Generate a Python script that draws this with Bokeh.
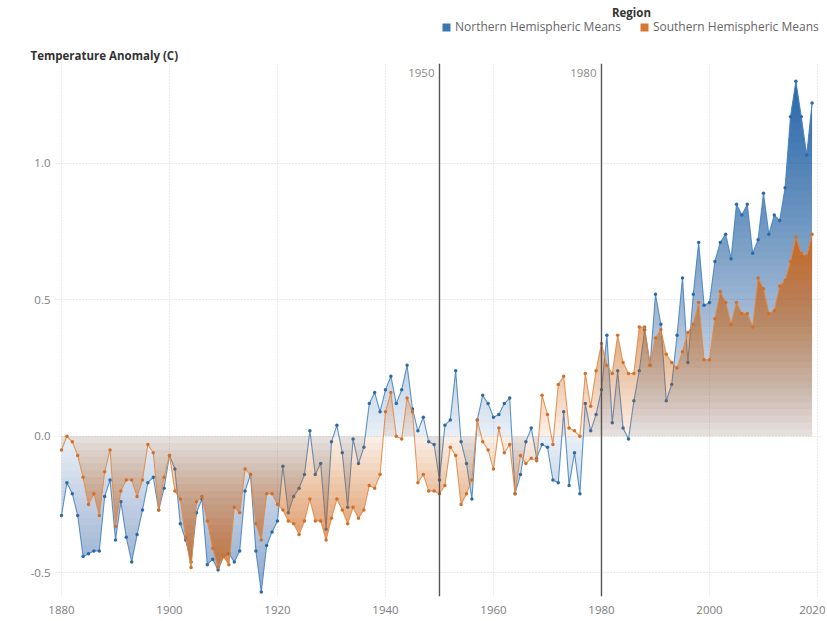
import numpy as np
from bokeh.plotting import figure
from bokeh.layouts import column
from bokeh.models import (Range1d, FixedTicker, NumeralTickFormatter, Span, Label, Title,
                          Legend, LegendItem)
from bokeh.embed import file_html
from bokeh.resources import INLINE

years = list(range(1880, 2020))

north = [-0.29, -0.17, -0.21, -0.29, -0.44, -0.43, -0.42, -0.42, -0.22, -0.16,
         -0.38, -0.24, -0.37, -0.46, -0.36, -0.27, -0.17, -0.15, -0.27, -0.19,
         -0.07, -0.12, -0.32, -0.38, -0.46, -0.28, -0.23, -0.47, -0.45, -0.49,
         -0.44, -0.43, -0.46, -0.42, -0.20, -0.14, -0.42, -0.57, -0.40, -0.35,
         -0.31, -0.11, -0.28, -0.22, -0.19, -0.14, 0.02, -0.14, -0.10, -0.34,
         -0.02, 0.04, -0.06, -0.26, -0.01, -0.10, -0.04, 0.12, 0.16, 0.09,
         0.17, 0.22, 0.12, 0.17, 0.26, 0.10, 0.02, 0.07, -0.02, -0.03,
         -0.16, 0.04, 0.06, 0.24, -0.02, -0.10, -0.23, 0.06, 0.15, 0.12,
         0.07, 0.08, 0.12, 0.14, -0.21, -0.14, -0.02, 0.03, -0.08, -0.03,
         -0.04, -0.16, -0.17, 0.09, -0.18, -0.06, -0.21, 0.12, 0.02, 0.08,
         0.17, 0.37, 0.05, 0.24, 0.03, -0.01, 0.13, 0.24, 0.39, 0.26,
         0.52, 0.41, 0.13, 0.19, 0.37, 0.58, 0.27, 0.52, 0.71, 0.48,
         0.49, 0.64, 0.71, 0.74, 0.65, 0.85, 0.81, 0.85, 0.67, 0.72,
         0.89, 0.74, 0.81, 0.79, 0.91, 1.17, 1.30, 1.17, 1.03, 1.22]

south = [-0.05, 0.00, -0.02, -0.07, -0.15, -0.25, -0.21, -0.29, -0.13, -0.05,
         -0.33, -0.20, -0.16, -0.16, -0.22, -0.16, -0.03, -0.06, -0.27, -0.15,
         -0.07, -0.20, -0.23, -0.37, -0.48, -0.24, -0.22, -0.31, -0.41, -0.48,
         -0.44, -0.47, -0.26, -0.28, -0.12, -0.14, -0.32, -0.38, -0.21, -0.21,
         -0.25, -0.27, -0.31, -0.32, -0.36, -0.31, -0.23, -0.31, -0.31, -0.38,
         -0.30, -0.23, -0.27, -0.32, -0.26, -0.30, -0.27, -0.18, -0.19, -0.14,
         0.09, 0.16, 0.00, -0.01, 0.14, 0.09, -0.17, -0.14, -0.20, -0.20,
         -0.21, -0.18, -0.04, -0.07, -0.25, -0.21, -0.16, 0.06, -0.02, -0.05,
         -0.12, 0.03, -0.06, -0.03, -0.21, -0.07, -0.10, -0.08, -0.09, 0.15,
         0.08, -0.03, 0.19, 0.22, 0.03, 0.02, 0.00, 0.23, 0.11, 0.24,
         0.34, 0.26, 0.23, 0.37, 0.27, 0.23, 0.23, 0.40, 0.40, 0.26,
         0.36, 0.39, 0.30, 0.27, 0.25, 0.31, 0.38, 0.41, 0.49, 0.28,
         0.28, 0.43, 0.53, 0.49, 0.41, 0.49, 0.45, 0.45, 0.40, 0.58,
         0.54, 0.45, 0.46, 0.55, 0.57, 0.64, 0.73, 0.67, 0.66, 0.74]

series_names = ["Northern Hemispheric Means", "Southern Hemispheric Means"]
x_ticks = [1880, 1900, 1920, 1940, 1960, 1980, 2000, 2020]
y_ticks = [-0.5, 0.0, 0.5, 1.0]
ref_years = [1950, 1980]

BLUE_FILL = "#2366ad"
BLUE_LINE = "#4a86c2"
BLUE_DOT = "#2c6aa6"
ORANGE_FILL = "#d46a1c"
ORANGE_LINE = "#e28c48"
ORANGE_DOT = "#d0702a"
FONT = "Open Sans"

# ---------------- header strip: legend + region title ----------------
# (its frame is aligned with the main chart's frame, which spans page x 55..822)
head = figure(width=825, height=44, x_range=Range1d(55, 822), y_range=Range1d(44, 0),
              x_axis_type=None, y_axis_type=None, min_border=0,
              output_backend="svg", toolbar_location=None)
head.outline_line_color = None
head.xgrid.visible = False
head.ygrid.visible = False
head.background_fill_color = "white"
head.border_fill_color = "white"

r_n = head.varea(x=[100, 101], y1=[0, 0], y2=[0, 0], fill_color="#3a78b5")
r_s = head.varea(x=[100, 101], y1=[0, 0], y2=[0, 0], fill_color="#d8772f")
legend = Legend(items=[LegendItem(label=series_names[0], renderers=[r_n]),
                       LegendItem(label=series_names[1], renderers=[r_s])],
                orientation="horizontal", location=(386, 9),
                glyph_width=10, glyph_height=10, label_height=12, label_standoff=4,
                spacing=18, padding=0, margin=0, border_line_color=None,
                background_fill_alpha=0, label_text_font=FONT,
                label_text_font_size="12px", label_text_color="#666666")
head.add_layout(legend)
head.add_layout(Label(x=631, y=12, text="Region", text_align="center",
                      text_baseline="middle", text_font=FONT, text_font_size="11.5px",
                      text_font_style="bold", text_color="#333333"))

# ---------------- main chart ----------------
p = figure(width=825, height=572,
           x_range=Range1d(1878.89, 2020.93), y_range=Range1d(-0.5866, 1.365),
           min_border_left=55, min_border_right=3, min_border_top=0, min_border_bottom=20,
           output_backend="svg", toolbar_location=None)
p.outline_line_color = None
p.background_fill_color = "white"
p.border_fill_color = "white"

p.add_layout(Title(text="Temperature Anomaly (C)", align="left", offset=-25, standoff=2,
                   text_font=FONT, text_font_size="11.5px", text_font_style="bold",
                   text_color="#333333"), "above")

for ax in (p.xaxis[0], p.yaxis[0]):
    ax.axis_line_color = None
    ax.major_tick_line_color = None
    ax.minor_tick_line_color = None
    ax.major_tick_out = 0
    ax.major_tick_in = 0
    ax.minor_tick_out = 0
    ax.major_label_text_font = FONT
    ax.major_label_text_font_size = "11.5px"
    ax.major_label_text_color = "#7d7d7d"
p.xaxis[0].major_label_standoff = 9
p.yaxis[0].major_label_standoff = 5
p.xaxis[0].ticker = FixedTicker(ticks=x_ticks)
p.yaxis[0].ticker = FixedTicker(ticks=y_ticks)
p.yaxis[0].formatter = NumeralTickFormatter(format="0.0")

p.xgrid.grid_line_color = "#d6d6d6"
p.ygrid.grid_line_color = "#d6d6d6"
p.xgrid.grid_line_dash = "1 2"
p.ygrid.grid_line_dash = "1 2"


def refine(xs, vs, levels):
    ox, ov = [xs[0]], [vs[0]]
    for i in range(len(xs) - 1):
        x0, x1, v0, v1 = xs[i], xs[i + 1], vs[i], vs[i + 1]
        ts = []
        for L in levels:
            if (v0 - L) * (v1 - L) < 0:
                ts.append((L - v0) / (v1 - v0))
        for t in sorted(ts):
            ox.append(x0 + t * (x1 - x0))
            ov.append(v0 + t * (v1 - v0))
        ox.append(x1)
        ov.append(v1)
    return np.array(ox), np.array(ov)


def gradient_area(vals, color, a0, amax_pos, amax_neg, step=0.025):
    xs = np.array(years, dtype=float)
    vs = np.array(vals, dtype=float)
    vmax = max(vs.max(), step)
    vmin = min(vs.min(), -step)
    pos_levels = np.arange(0, vmax, step)
    neg_levels = np.arange(0, -vmin, step)
    levels = list(pos_levels) + [-l for l in neg_levels]
    xr, vr = refine(xs, vs, levels)
    for sign, lv, M, amax in ((1, pos_levels, vmax, amax_pos), (-1, neg_levels, -vmin, amax_neg)):
        prev = 0.0
        for L in lv:
            d = L + step / 2
            target = min(a0 + (amax - a0) * d / M, 0.98)
            alpha = 1 - (1 - target) / (1 - prev)
            prev = target
            if alpha <= 0:
                continue
            if sign > 0:
                y1 = np.full_like(vr, L)
                y2 = np.maximum(vr, L)
            else:
                y1 = np.minimum(vr, -L)
                y2 = np.full_like(vr, -L)
            if np.all(y1 == y2):
                continue
            p.varea(x=xr, y1=y1, y2=y2, fill_color=color, fill_alpha=alpha)


# Northern hemisphere: area, then line
gradient_area(north, BLUE_FILL, 0.10, 0.95, 0.50)
p.line(years, north, line_color=BLUE_LINE, line_width=1.1, line_alpha=0.9)
p.scatter(years, north, size=3.5, fill_color=BLUE_DOT, line_color=None)

# Southern hemisphere on top
gradient_area(south, ORANGE_FILL, 0.10, 0.92, 0.78)
p.line(years, south, line_color=ORANGE_LINE, line_width=1.1, line_alpha=0.9)
p.scatter(years, south, size=3.5, fill_color=ORANGE_DOT, line_color=None)

# reference lines
for yr in ref_years:
    p.add_layout(Span(location=yr, dimension="height", line_color="#555555", line_width=1.4))
    p.add_layout(Label(x=yr, y=1.329, text=str(yr), x_offset=-5, text_align="right",
                       text_baseline="middle", text_font=FONT, text_font_size="11.5px",
                       text_color="#8a8a8a"))

layout = column(head, p, spacing=0)
open("out.html", "w").write(file_html(layout, INLINE))
